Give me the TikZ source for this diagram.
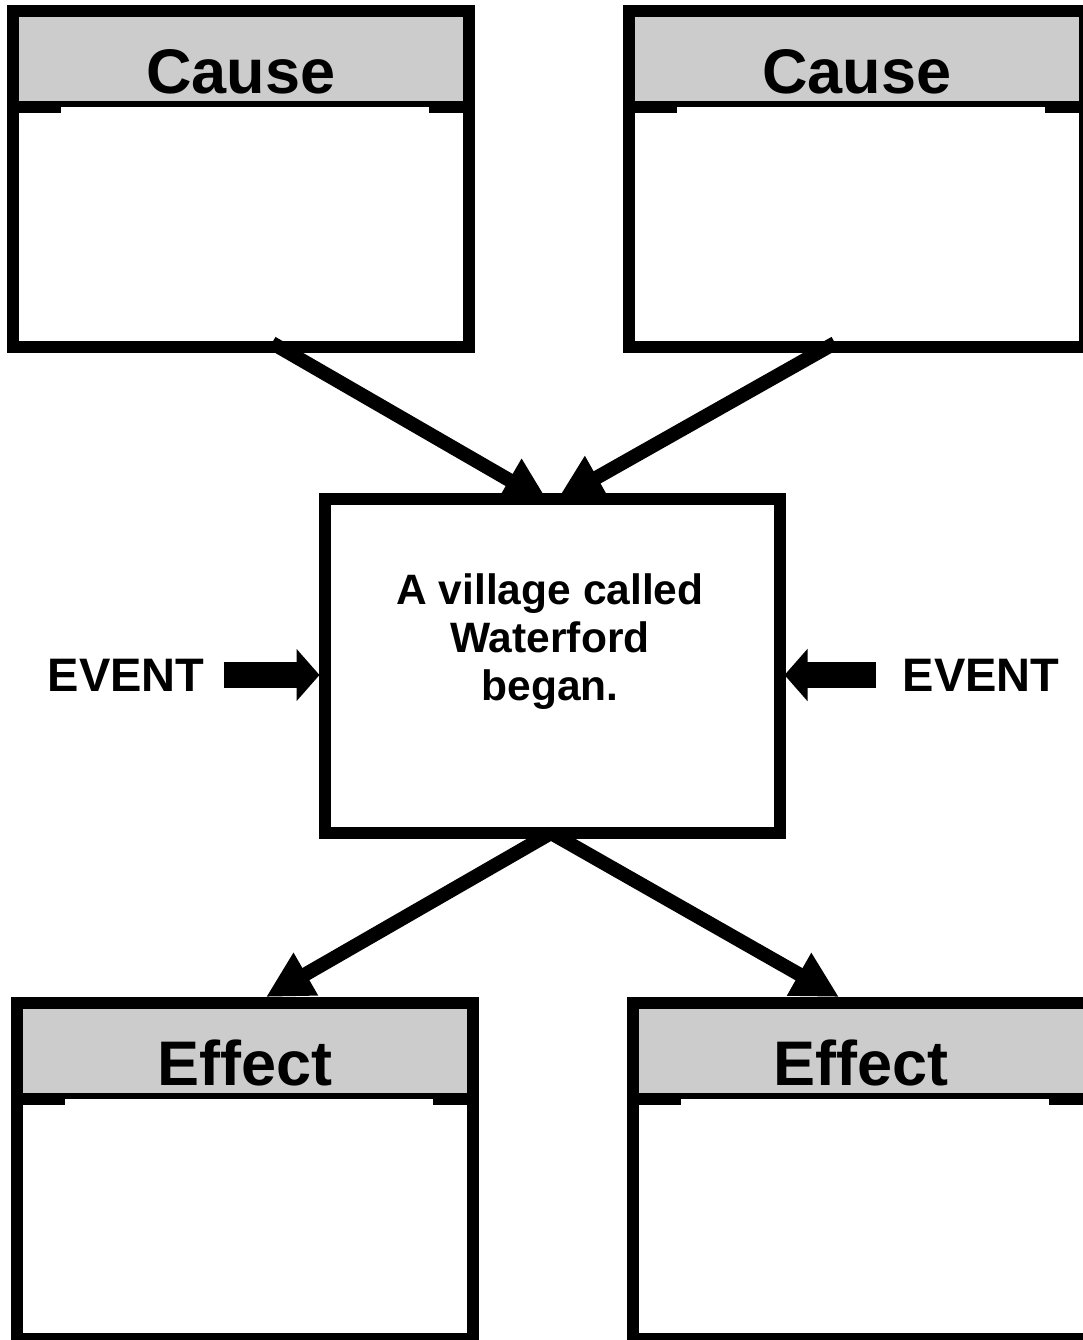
\documentclass[tikz,border=0pt]{standalone}
\usepackage{fontspec}
\setmainfont{Liberation Sans}
\usetikzlibrary{arrows.meta}
\usetikzlibrary{calc}
\usetikzlibrary{positioning}

\tikzset{
  cellbox/.style={draw, line width=12pt, minimum width=456pt, minimum height=336pt, inner sep=0pt},
  cellhead/.style={fill=black!20, minimum width=444pt, inner sep=0pt, text height=76pt, text depth=8pt,
    font=\fontsize{63}{70}\selectfont\bfseries},
  eventbox/.style={draw, line width=12pt, minimum width=455pt, minimum height=334pt, inner sep=0pt},
  eventtext/.style={align=center, inner sep=0pt, font=\fontsize{42.5}{48}\selectfont\bfseries},
  eventlabel/.style={inner sep=0pt, font=\fontsize{47}{52}\selectfont\bfseries},
  flowarrow/.style={line width=14pt, -{Triangle[length=46pt,width=46pt]}},
  blockarrow/.style={line width=26pt, -{Triangle[length=23pt,width=51pt]}}
}

\begin{document}
\begin{tikzpicture}[x=1pt, y=-1pt]
\useasboundingbox (0,0) rectangle (1083,1340);

%cause and effect boxes
\foreach \nm/\cx/\cy/\txt in {causeL/241/179/Cause, causeR/857/179/Cause,
                              effectL/245/1171/Effect, effectR/861/1171/Effect} {
  \node[cellbox] (\nm) at (\cx, \cy) {};
  \node[cellhead, anchor=north] (\nm-head) at ($(\nm.north)+(0,12)$) {\txt};
  \draw[line width=6pt] ($(\nm-head.south west)+(0,3)$) -- ($(\nm-head.south east)+(0,3)$);
  \fill (\nm-head.south west) rectangle +(42,12);
  \fill (\nm-head.south east) rectangle +(-34,12);
}

%event
\node[eventbox] (event) at (552, 666) {};
\node[eventtext] (eventtxt) at (550, 642) {A village called\\Waterford\\began.};

\node[eventlabel] (evL) at (126, 675) {EVENT};
\node[eventlabel] (evR) at (981, 675) {EVENT};

\draw[blockarrow] ($(evL.east)+(19,0)$) -- ($(event.west)+(1,9)$);
\draw[blockarrow] ($(evR.west)+(-26,0)$) -- ($(event.east)+(-1,9)$);

%causes into the event, event out to the effects
\draw[flowarrow] ($(causeL.south)+(31,-10)$) -- ($(event.north)+(-3,10)$);
\draw[flowarrow] ($(causeR.south)+(-22,-10)$) -- ($(event.north)+(5,7)$);
\draw[flowarrow] ($(event.south)+(-1,-6)$) -- ($(effectL.north)+(21,0)$);
\draw[flowarrow] ($(event.south)+(-1,-6)$) -- ($(effectR.north)+(-22,0)$);
\end{tikzpicture}
\end{document}
